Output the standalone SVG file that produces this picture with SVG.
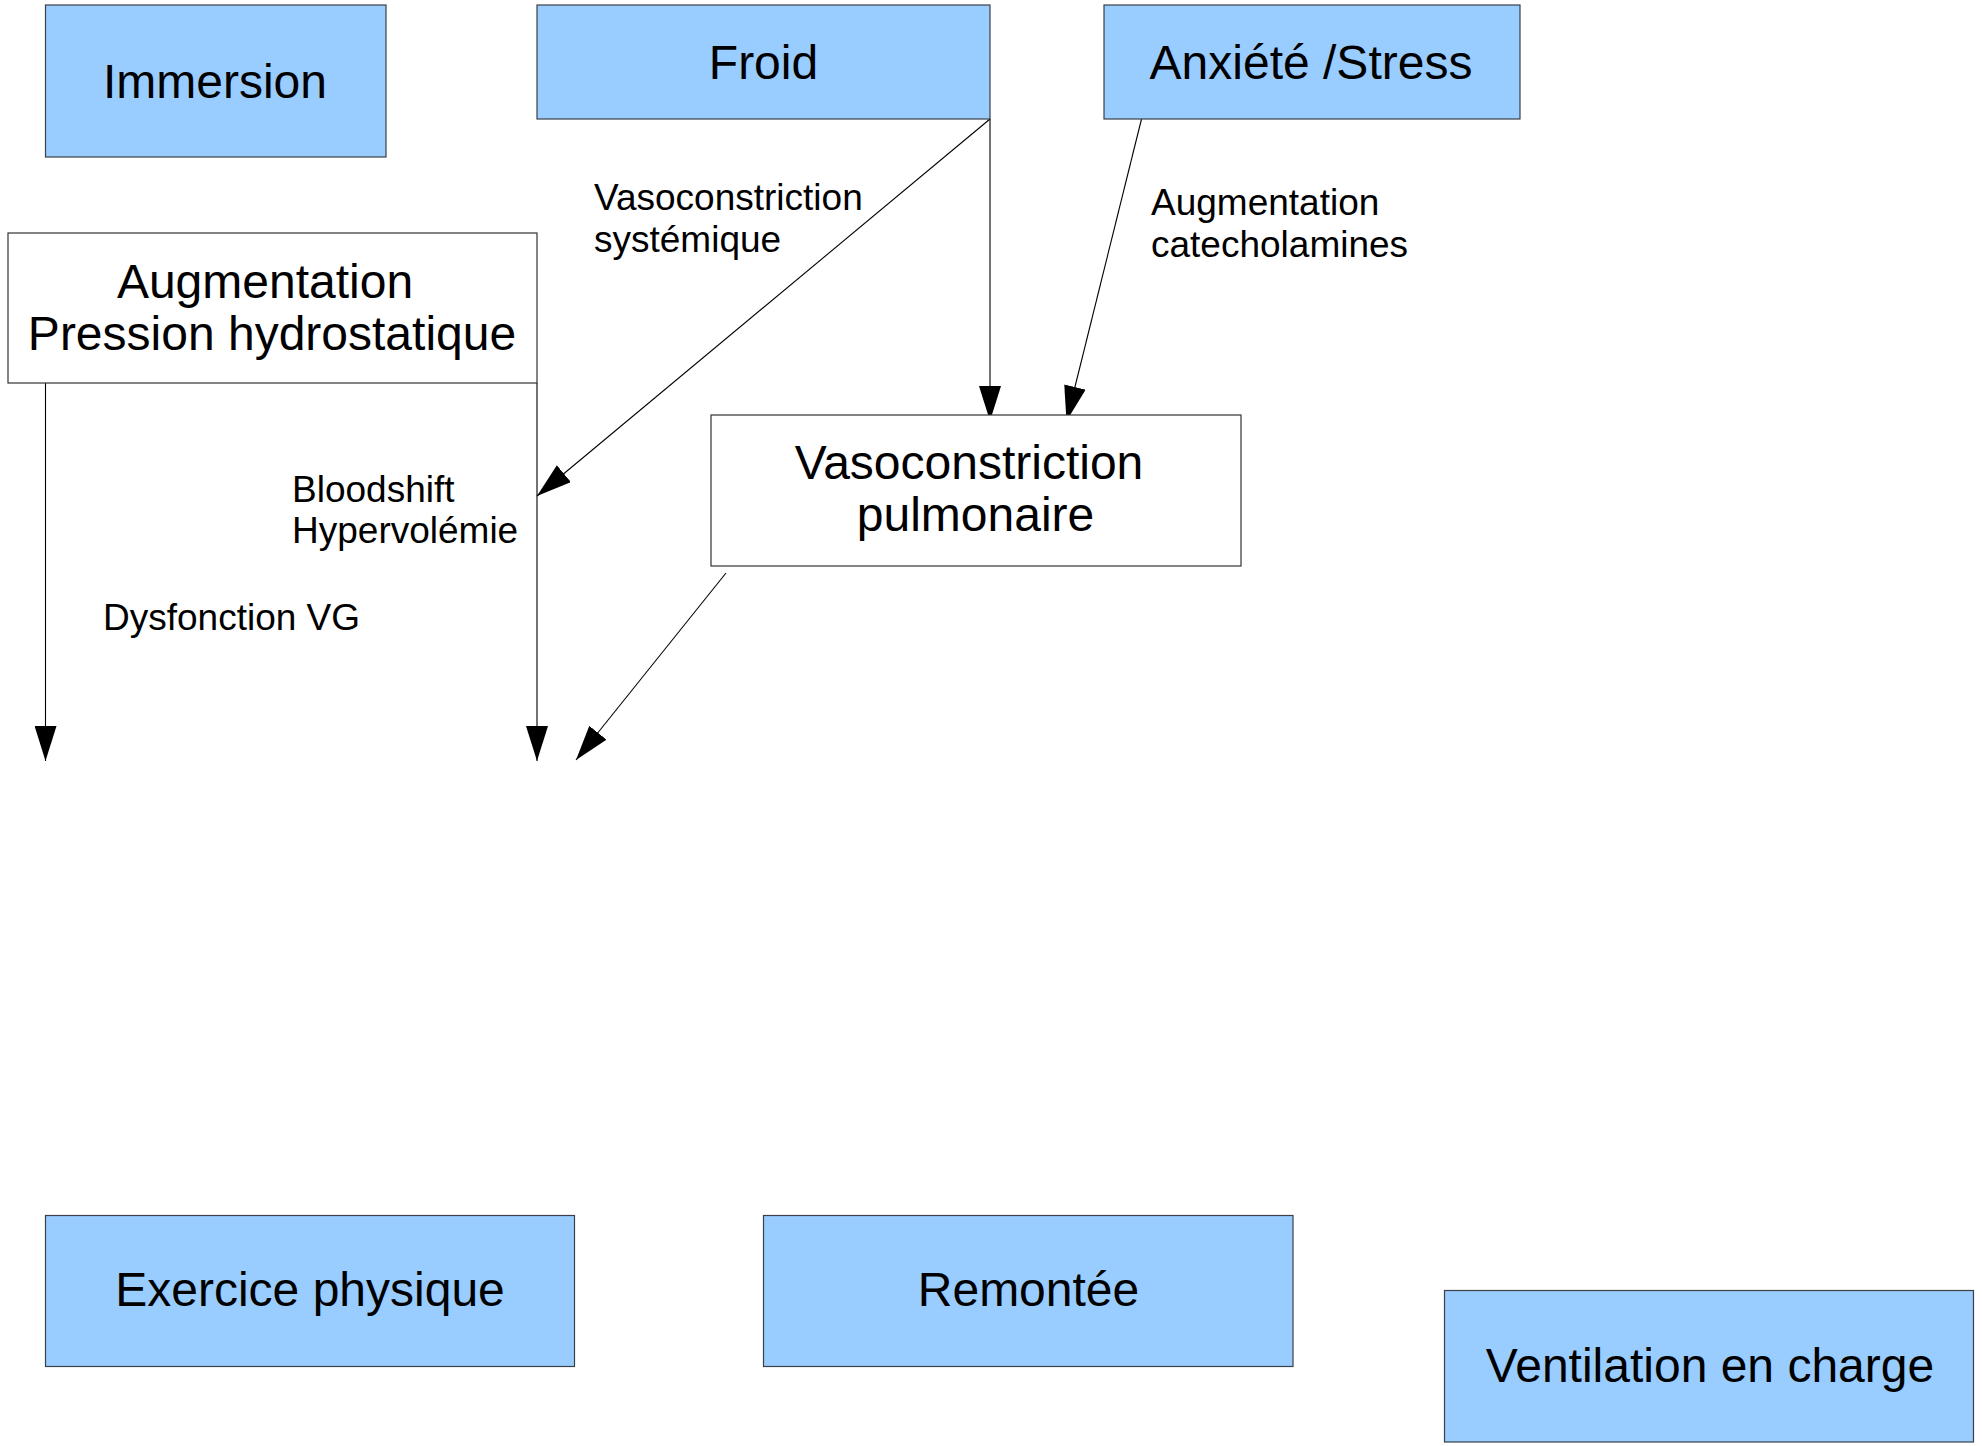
<svg xmlns="http://www.w3.org/2000/svg" width="1982" height="1446" viewBox="0 0 1982 1446">
<style>
.box-blue{fill:#99ccff;stroke:#3a3f48;stroke-width:1.2}
.box-white{fill:#ffffff;stroke:#333333;stroke-width:1.2}
.big{font-family:"Liberation Sans",Arial,sans-serif;font-size:48px;fill:#000;text-anchor:middle}
.small{font-family:"Liberation Sans",Arial,sans-serif;font-size:37px;fill:#000}
.conn{stroke:#000;stroke-width:1.1;fill:none;marker-end:url(#arr)}
</style>
<defs>
<marker id="arr" markerUnits="userSpaceOnUse" markerWidth="36" markerHeight="22" refX="35" refY="11" orient="auto" viewBox="0 0 36 22">
<path d="M0,0 L35,11 L0,22 Z" fill="#000"/>
</marker>
</defs>
<rect width="1982" height="1446" fill="#ffffff"/>
<g id="connectors">
<path class="conn" d="M990,119 L990,421"/>
<path class="conn" d="M990,119 L537,496"/>
<path class="conn" d="M1141.5,119 L1066.5,421"/>
<path class="conn" d="M45.5,383 L45.5,761"/>
<path class="conn" d="M537,383 L537,761"/>
<path class="conn" d="M726,573 L576,760"/>
</g>
<g id="node-immersion">
<rect class="box-blue" x="45.5" y="5" width="340.5" height="152"/>
<text class="big" x="215" y="98">Immersion</text>
</g>
<g id="node-froid">
<rect class="box-blue" x="537" y="5" width="453" height="114"/>
<text class="big" x="763.5" y="79">Froid</text>
</g>
<g id="node-anxiete">
<rect class="box-blue" x="1104" y="5" width="416" height="114"/>
<text class="big" x="1311" y="79">Anxiété /Stress</text>
</g>
<g id="node-augmentation">
<rect class="box-white" x="8" y="233" width="529" height="150"/>
<text class="big" x="265" y="298">Augmentation</text>
<text class="big" x="272" y="350">Pression hydrostatique</text>
</g>
<g id="node-vaso-pulm">
<rect class="box-white" x="711" y="415" width="530" height="151"/>
<text class="big" x="969" y="479">Vasoconstriction</text>
<text class="big" x="975.5" y="531">pulmonaire</text>
</g>
<g id="node-exercice">
<rect class="box-blue" x="45.5" y="1215.5" width="529" height="151"/>
<text class="big" x="310" y="1306">Exercice physique</text>
</g>
<g id="node-remontee">
<rect class="box-blue" x="763.5" y="1215.5" width="529.5" height="151"/>
<text class="big" x="1028.5" y="1306">Remontée</text>
</g>
<g id="node-ventilation">
<rect class="box-blue" x="1444.5" y="1290.5" width="529" height="151.5"/>
<text class="big" x="1710" y="1381.5">Ventilation en charge</text>
</g>
<g id="labels">
<text class="small" x="594" y="210">Vasoconstriction</text>
<text class="small" x="594" y="252">systémique</text>
<text class="small" x="1151" y="215">Augmentation</text>
<text class="small" x="1151" y="257">catecholamines</text>
<text class="small" x="292" y="502">Bloodshift</text>
<text class="small" x="292" y="543">Hypervolémie</text>
<text class="small" x="103" y="630">Dysfonction VG</text>
</g>
</svg>
